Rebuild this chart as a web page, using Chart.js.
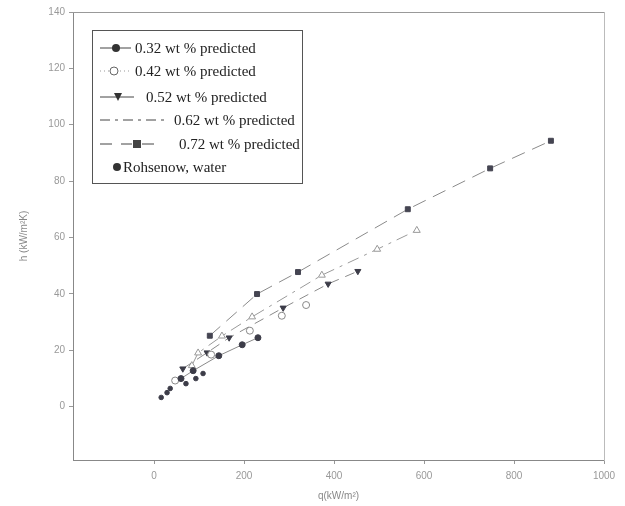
<!DOCTYPE html>
<html lang="en">
<head>
<meta charset="UTF-8">
<title>h vs q</title>
<script src="https://cdn.jsdelivr.net/npm/chart.js@4.4.0/dist/chart.umd.min.js"></script>
<style>
    html, body { margin: 0; padding: 0; background: #fff; }
    #wrap { width: 625px; height: 506px; }
</style>
</head>
<body>
<div id="wrap"><canvas id="chart" width="625" height="506"></canvas></div>
<script>
// values: q (kW/m2) and h (kW/m2K)
const q032 = [60, 87, 144, 196, 231];
const h032 = [9.9, 12.7, 18, 21.9, 24.4];
const q042 = [47, 127, 213, 284, 338];
const h042 = [9.2, 18.4, 26.9, 32.2, 36];
const q052 = [64, 118, 167, 287, 387, 453];
const h052 = [13.4, 19.1, 24.4, 35, 43.5, 48];
const q062 = [84, 98, 151, 218, 373, 496, 584];
const h062 = [14.5, 19, 25, 31.8, 46.6, 55.8, 62.5];
const q072 = [124, 229, 320, 564, 747, 882];
const h072 = [25.1, 39.9, 47.7, 70, 84.5, 94.3];
const qRoh = [16, 29, 36, 71, 93, 109];
const hRoh = [3.2, 4.9, 6.4, 8.1, 9.9, 11.7];

const labels = ['0.32 wt % predicted', '0.42 wt % predicted', '0.52 wt % predicted',
                '0.62 wt % predicted', '0.72 wt % predicted', 'Rohsenow, water'];
const xTicks = [0, 200, 400, 600, 800, 1000];
const yTicks = [0, 20, 40, 60, 80, 100, 120, 140];

const pts = (xs, ys) => xs.map((x, i) => ({x: x, y: ys[i]}));
const dark = '#3c3c48';
const lineGrey = '#8a8a8a';
const tickFont = {family: 'Arial, "Liberation Sans", sans-serif', size: 10};

const datasets = [
    {label: labels[0], data: pts(q032, h032), showLine: true, borderColor: lineGrey, borderWidth: 1,
     pointStyle: 'circle', pointRadius: 3, pointBackgroundColor: dark, pointBorderColor: dark},
    {label: labels[1], data: pts(q042, h042), showLine: false,
     pointStyle: 'circle', pointRadius: 3.5, pointBackgroundColor: '#fff', pointBorderColor: '#888'},
    {label: labels[2], data: pts(q052, h052), showLine: true, borderColor: lineGrey, borderWidth: 1, borderDash: [10, 7],
     pointStyle: 'triangle', rotation: 180, pointRadius: 3.5, pointBackgroundColor: dark, pointBorderColor: dark},
    {label: labels[3], data: pts(q062, h062), showLine: true, borderColor: '#9a9a9a', borderWidth: 1, borderDash: [12, 6, 3, 6],
     pointStyle: 'triangle', pointRadius: 4, pointBackgroundColor: '#fff', pointBorderColor: '#999'},
    {label: labels[4], data: pts(q072, h072), showLine: true, borderColor: lineGrey, borderWidth: 1, borderDash: [14, 8],
     pointStyle: 'rect', pointRadius: 3.5, pointBackgroundColor: '#454552', pointBorderColor: '#454552'},
    {label: labels[5], data: pts(qRoh, hRoh), showLine: false,
     pointStyle: 'circle', pointRadius: 2.3, pointBackgroundColor: dark, pointBorderColor: dark}
];

// legend box drawn inside the plot like the original figure
const boxLegend = {
    id: 'boxLegend',
    afterDraw(chart) {
        const c = chart.ctx;
        c.save();
        c.strokeStyle = '#555';
        c.lineWidth = 1;
        c.strokeRect(92.5, 30.5, 210, 153);
        c.font = '15px "Liberation Serif", "Times New Roman", serif';
        c.textBaseline = 'middle';
        const rows = [
            {y: 48, tx: 135, line: [100, 131], dash: [], mark: 'dot', mx: 116},
            {y: 71, tx: 135, line: [100, 131], dash: [1, 3], mark: 'ring', mx: 114},
            {y: 97, tx: 146, line: [100, 134], dash: [], mark: 'tri', mx: 118},
            {y: 120, tx: 174, line: [100, 165], dash: [10, 5, 3, 5], mark: null},
            {y: 144, tx: 179, line: [100, 162], dash: [12, 9], mark: 'sq', mx: 137},
            {y: 167, tx: 123, line: null, mark: 'dot', mx: 117}
        ];
        rows.forEach((r, i) => {
            if (r.line) {
                c.strokeStyle = i === 1 ? '#999' : '#444';
                c.setLineDash(r.dash);
                c.beginPath();
                c.moveTo(r.line[0], r.y);
                c.lineTo(r.line[1], r.y);
                c.stroke();
                c.setLineDash([]);
            }
            c.fillStyle = '#333';
            c.strokeStyle = '#666';
            if (r.mark === 'dot') {
                c.beginPath(); c.arc(r.mx, r.y, 4, 0, Math.PI * 2); c.fill();
            } else if (r.mark === 'ring') {
                c.fillStyle = '#fff';
                c.beginPath(); c.arc(r.mx, r.y, 4, 0, Math.PI * 2); c.fill(); c.stroke();
            } else if (r.mark === 'tri') {
                c.beginPath(); c.moveTo(r.mx - 4, r.y - 4); c.lineTo(r.mx + 4, r.y - 4); c.lineTo(r.mx, r.y + 4); c.closePath(); c.fill();
            } else if (r.mark === 'sq') {
                c.fillStyle = '#fff'; c.fillRect(r.mx - 5, r.y - 5, 10, 10);
                c.fillStyle = '#444'; c.fillRect(r.mx - 4, r.y - 4, 8, 8);
            }
            c.fillStyle = '#222';
            c.fillText(labels[i], r.tx, r.y + 1);
        });
        c.restore();
    }
};

new Chart(document.getElementById('chart'), {
    type: 'scatter',
    data: {datasets: datasets},
    options: {
        responsive: false,
        animation: false,
        layout: {padding: {left: 14, right: 21, top: 12, bottom: 0}},
        plugins: {legend: {display: false}, tooltip: {enabled: false}},
        scales: {
            x: {
                type: 'linear', min: -180, max: 1000,
                afterBuildTicks: s => { s.ticks = xTicks.map(v => ({value: v})); },
                afterFit: s => { s.height = 46; },
                grid: {drawOnChartArea: false, tickLength: 4, color: '#999'},
                border: {color: '#888'},
                ticks: {color: '#999', font: tickFont, padding: 6, callback: v => String(v)},
                title: {display: true, text: 'q(kW/m²)', color: '#888', font: tickFont, padding: {top: 2}}
            },
            y: {
                type: 'linear', min: -19, max: 140,
                afterBuildTicks: s => { s.ticks = yTicks.map(v => ({value: v})); },
                afterFit: s => { s.width = 59; },
                grid: {drawOnChartArea: false, tickLength: 4, color: '#999'},
                border: {color: '#888'},
                ticks: {color: '#999', font: tickFont, padding: 4, callback: v => String(v)},
                title: {display: true, text: 'h (kW/m²K)', color: '#888', font: tickFont}
            },
            x2: {
                type: 'linear', position: 'top', display: true, min: -180, max: 1000,
                afterFit: s => { s.height = 0; },
                grid: {display: false}, border: {color: '#999'}, ticks: {display: false}
            },
            y2: {
                type: 'linear', position: 'right', display: true, min: -19, max: 140,
                afterFit: s => { s.width = 0; },
                grid: {display: false}, border: {color: '#bbb'}, ticks: {display: false}
            }
        }
    },
    plugins: [boxLegend]
});
</script>
</body>
</html>
